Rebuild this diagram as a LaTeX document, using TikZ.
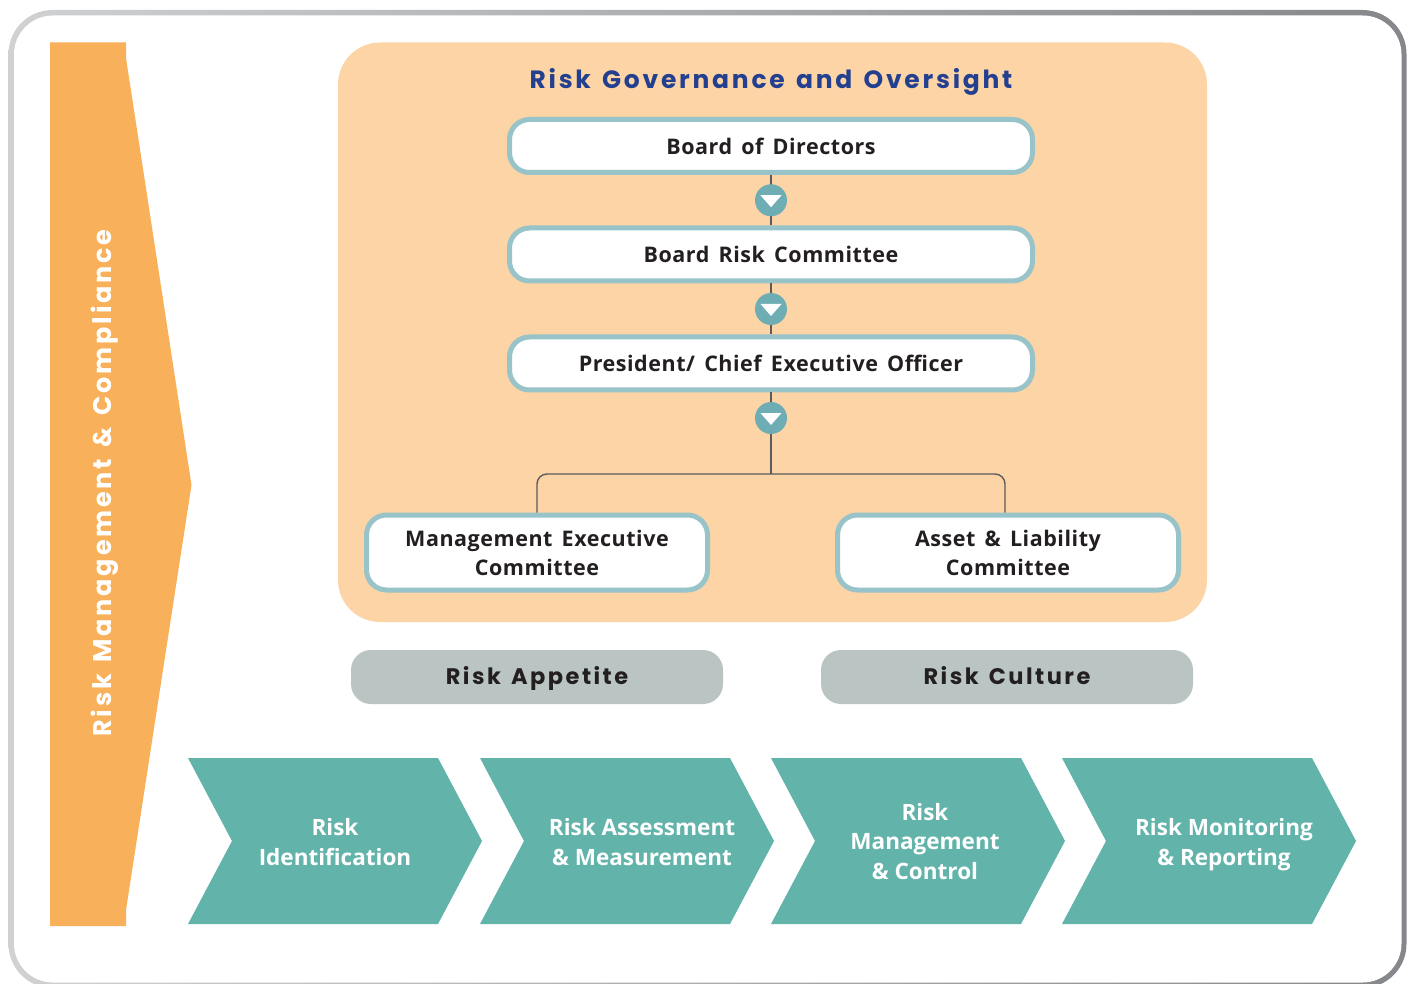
\documentclass[tikz,border=0pt]{standalone}
\usepackage{fontspec}
\setmainfont{Open Sans}
\newfontfamily\boxfont{Open Sans}[LetterSpace=2.5, WordSpace=1.5]
\newfontfamily\geofont{Poppins}[LetterSpace=11, WordSpace=1.4]
\usetikzlibrary{calc}

\definecolor{frameL}{HTML}{D0D1D3}
\definecolor{frameR}{HTML}{86878B}
\definecolor{sideorange}{HTML}{F9B05A}
\definecolor{govpeach}{HTML}{FCD4A6}
\definecolor{boxedge}{HTML}{97C3C9}
\definecolor{dotteal}{HTML}{6EADB4}
\definecolor{linkgray}{HTML}{5B5B5B}
\definecolor{titlenavy}{HTML}{233F8F}
\definecolor{pillgray}{HTML}{BAC4C2}
\definecolor{inkdark}{HTML}{231F20}
\definecolor{stepteal}{HTML}{62B3AA}

\tikzset{
  orgbox/.style={draw=boxedge, line width=5pt, fill=white, rounded corners=20pt,
    minimum height=53pt, inner sep=0pt, align=center, text=inkdark,
    font=\boxfont\fontsize{21.5}{29}\selectfont\bfseries},
  dot/.style={circle, fill=dotteal, minimum size=32pt, inner sep=0pt},
  link/.style={draw=linkgray, line width=1.4pt},
  pill/.style={fill=pillgray, rounded corners=20pt, minimum width=372pt,
    minimum height=54pt, inner sep=0pt, text=inkdark, text height=15pt,
    text depth=0pt, font=\geofont\fontsize{22.5}{26}\selectfont\bfseries},
  steplabel/.style={text=white, align=center, inner sep=0pt, text depth=6pt,
    font=\fontsize{22.5}{29.5}\selectfont\bfseries},
}

\begin{document}
\begin{tikzpicture}[x=1pt, y=-1pt]
\useasboundingbox (0,0) rectangle (1409,984);

% outer frame with grey gradient
\shade[left color=frameL, right color=frameR, rounded corners=44pt]
  (8.5,10) rectangle (1406.5,988);
\fill[white, rounded corners=39pt] (14,15.5) rectangle (1401.5,982.5);

% side arrow
\fill[sideorange] (50,42.5) -- (126,42.5) -- (126,58) -- (191.5,485)
  -- (126,910) -- (126,926) -- (50,926) -- cycle;
\node[rotate=90, text=white, inner sep=0pt,
  font=\geofont\fontsize{25.5}{28}\selectfont\bfseries] (side) at (105,483)
  {Risk Management \& Compliance};

% governance panel
\fill[govpeach, rounded corners=42pt] (338,42.5) rectangle (1207,622);
\node[text=titlenavy, inner sep=0pt,
  font=\geofont\fontsize{25}{28}\selectfont\bfseries] (title) at (771,82)
  {Risk Governance and Oversight};

\node[orgbox, minimum width=523pt] (b1) at (771,146) {Board of Directors};
\node[orgbox, minimum width=523pt] (b2) at (771,254.5) {Board Risk Committee};
\node[orgbox, minimum width=523pt] (b3) at (771,363.5) {President/ Chief Executive Officer};
\node[orgbox, minimum width=341pt, minimum height=75pt] (b4) at (537,552.5)
  {Management Executive\\Committee};
\node[orgbox, minimum width=341pt, minimum height=75pt] (b5) at (1008,552.5)
  {Asset \& Liability\\Committee};

% connectors
\draw[link] (b1.south) -- (b2.north);
\draw[link] (b2.south) -- (b3.north);
\coordinate (fork) at (771,474);
\draw[link] (b3.south) -- (fork);
\draw[link, rounded corners=10pt] (fork) -| (b4.north);
\draw[link, rounded corners=10pt] (fork) -| ($(b5.north)+(-3,0)$);

% arrow dots
\node[dot] (d1) at ($(b1.south)!0.5!(b2.north)$) {};
\node[dot] (d2) at ($(b2.south)!0.5!(b3.north)$) {};
\node[dot] (d3) at (771,418) {};
\foreach \d in {d1,d2,d3}
  \fill[white] ($(\d)+(-10.5,-5)$) -- ($(\d)+(10.5,-5)$) -- ($(\d)+(0,7)$) -- cycle;

% appetite and culture
\node[pill] (appetite) at (537,677) {Risk Appetite};
\node[pill] (culture) at (1007,677) {Risk Culture};

% process chevrons
\foreach \x in {188,480,771,1062}
  \fill[stepteal] (\x,758) -- ++(250,0) -- ++(44,83) -- ++(-44,83)
    -- ++(-250,0) -- ++(44,-83) -- cycle;
\node[steplabel] (s1) at (335,845) {Risk\\Identification};
\node[steplabel] (s2) at (642,845) {Risk Assessment\\\& Measurement};
\node[steplabel] (s3) at (925,844) {Risk\\Management\\\& Control};
\node[steplabel] (s4) at (1224,845) {Risk Monitoring\\\& Reporting};
\end{tikzpicture}
\end{document}
